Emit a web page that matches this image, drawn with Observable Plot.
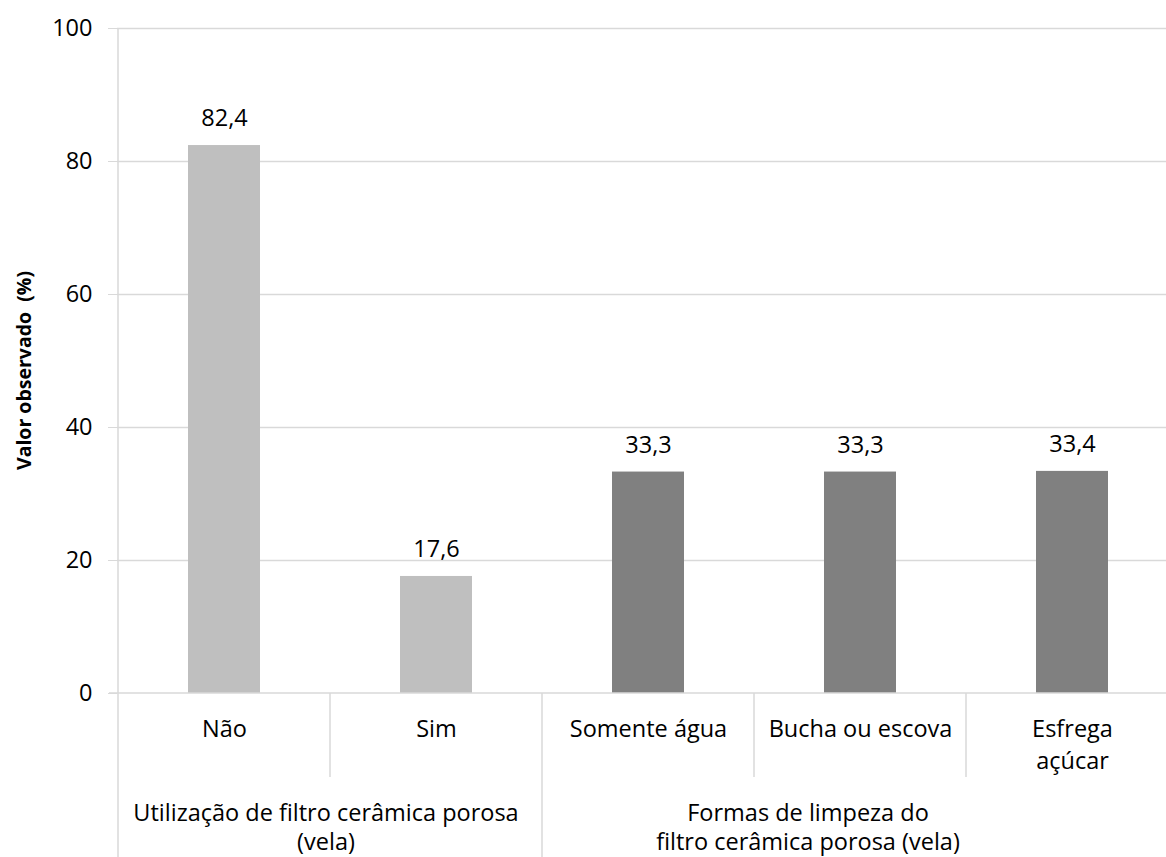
<!DOCTYPE html>
<html><head><meta charset="utf-8">
<script src="https://cdn.jsdelivr.net/npm/d3@7"></script>
<script src="https://cdn.jsdelivr.net/npm/@observablehq/plot@0.6"></script>
<style>
body{margin:0;background:#fff;overflow:hidden}
#chart svg{font-family:"Open Sans","Noto Sans",sans-serif;overflow:visible}
</style>
</head><body><div id="chart"></div>
<script>
const categories = ["Não", "Sim", "Somente água", "Bucha ou escova", "Esfrega\naçúcar"];
const values = [82.4, 17.6, 33.3, 33.3, 33.4];
const valueLabels = ["82,4", "17,6", "33,3", "33,3", "33,4"];
const categoryGroup = [0, 0, 1, 1, 1];
const groupLabels = ["Utilização de filtro cerâmica porosa\n(vela)", "Formas de limpeza do\nfiltro cerâmica porosa (vela)"];
const yTicks = [0, 20, 40, 60, 80, 100];
const yLabel = "Valor observado  (%)";

const data = categories.map((c, i) => ({category: c, value: values[i], label: valueLabels[i], group: groupLabels[categoryGroup[i]]}));

const FS = 23.5;
const chart = Plot.plot({
  width: 1166, height: 857,
  marginLeft: 117, marginRight: -13, marginTop: 28, marginBottom: 164,
  x: {domain: categories, padding: 0, axis: null},
  y: {domain: [0, 100], axis: null},
  color: {domain: groupLabels, range: ["#bfbfbf", "#808080"]},
  style: {fontSize: FS + "px"},
  marks: [
    Plot.ruleY(yTicks.filter(d => d > 0), {stroke: "#d9d9d9", strokeWidth: 1.3}),
    Plot.axisY({ticks: yTicks, tickSize: 9, tickPadding: 16, fontSize: FS, label: null, tickFormat: d => d, stroke: "#d9d9d9", fill: "#000"}),
    Plot.barY(data, {x: "category", y: "value", fill: "group", insetLeft: 70, insetRight: 70}),
    Plot.text(data, {x: "category", y: "value", text: "label", dy: -27, fontSize: FS, fill: "#000"}),
    Plot.text(data, {x: "category", text: "category", frameAnchor: "bottom", lineAnchor: "top", dy: 20, lineHeight: 1.38, fontSize: FS, fill: "#000"})
  ]
});
document.getElementById("chart").appendChild(chart);

const svg = d3.select(chart);
const xs = chart.scale("x");
const ys = chart.scale("y");
const bw = xs.bandwidth;
const y0 = ys.apply(0), yTop = ys.apply(100);
const left = xs.apply(categories[0]);
const right = xs.apply(categories[categories.length - 1]) + bw;
const H = 857;
const g = svg.append("g").attr("stroke", "#d9d9d9").attr("stroke-width", 1.5);
// y-axis line
g.append("line").attr("x1", left).attr("x2", left).attr("y1", yTop).attr("y2", H);
// x-axis line
g.append("line").attr("x1", left - 9).attr("x2", right).attr("y1", y0).attr("y2", y0);
// separators
for (let i = 1; i < categories.length; i++) {
  const x = xs.apply(categories[i]);
  const groupBoundary = categoryGroup[i] !== categoryGroup[i - 1];
  g.append("line").attr("x1", x).attr("x2", x).attr("y1", y0).attr("y2", groupBoundary ? H : y0 + 84);
}
// group labels (second group's label is centred within the visible part, as in the source)
const groupShift = [-4, -52];
groupLabels.forEach((gl, gi) => {
  const idx = categoryGroup.map((v, i) => v === gi ? i : -1).filter(i => i >= 0);
  const x1 = xs.apply(categories[idx[0]]);
  const x2 = xs.apply(categories[idx[idx.length - 1]]) + bw;
  const cx = (x1 + x2) / 2 + groupShift[gi];
  const t = svg.append("text").attr("y", y0 + 128)
    .attr("text-anchor", "middle").attr("font-size", FS).attr("fill", "#000");
  gl.split("\n").forEach((line, li) => {
    t.append("tspan").attr("x", cx).attr("dy", li === 0 ? 0 : 29).text(line);
  });
});
// y label
svg.append("text")
  .attr("transform", `translate(31,${(y0 + yTop) / 2 + 10}) rotate(-90)`)
  .attr("text-anchor", "middle").attr("font-size", 19.5).attr("font-weight", "bold").attr("fill", "#000")
  .text(yLabel);
</script>
</body></html>
